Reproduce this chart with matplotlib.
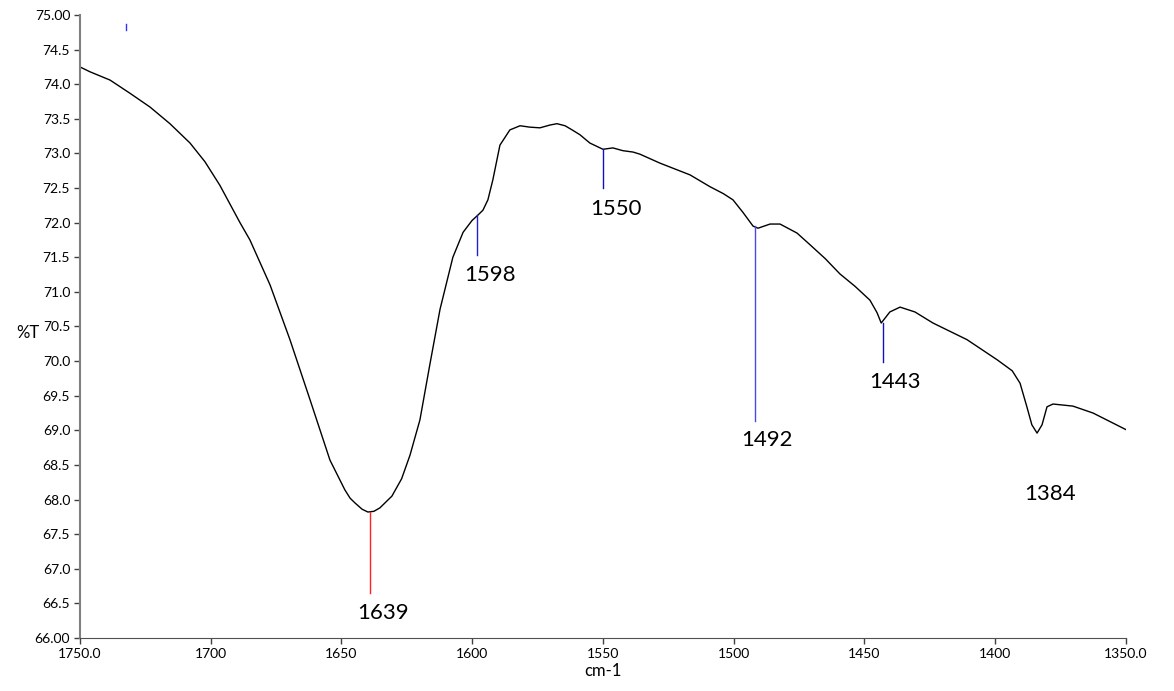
import numpy as np
import matplotlib.pyplot as plt

plt.rcParams['font.family'] = ['Lato', 'DejaVu Sans']

# IR transmittance trace (wavenumber cm-1, %T)
wavenumber = [1750.0, 1746.2, 1738.5, 1730.9, 1723.2, 1715.6, 1707.9, 1702.2, 1696.5,
              1688.8, 1685.0, 1677.3, 1669.7, 1662.0, 1654.4, 1648.7, 1646.7, 1644.8,
              1642.1, 1639.9, 1637.6, 1635.3, 1633.4, 1630.7, 1627.0, 1623.8, 1620.0,
              1616.2, 1612.3, 1607.4, 1603.5, 1600.1, 1597.8, 1595.9, 1594.0, 1592.1,
              1589.4, 1585.6, 1581.7, 1578.0, 1574.1, 1570.3, 1567.6, 1564.5, 1561.8,
              1558.8, 1555.0, 1550.0, 1546.2, 1542.4, 1538.5, 1535.9, 1528.2, 1516.7,
              1509.1, 1504.0, 1500.3, 1496.5, 1492.6, 1490.7, 1486.1, 1482.3, 1475.8,
              1470.8, 1465.0, 1459.4, 1453.6, 1447.9, 1445.2, 1443.6, 1440.3, 1436.4,
              1430.7, 1423.8, 1410.8, 1399.3, 1393.5, 1390.5, 1387.9, 1386.0, 1384.0,
              1382.1, 1380.2, 1377.9, 1370.3, 1362.6, 1350.0]
transmittance = [74.25, 74.18, 74.06, 73.87, 73.67, 73.43, 73.15, 72.88, 72.54,
                 72.00, 71.75, 71.10, 70.31, 69.44, 68.57, 68.14, 68.02, 67.95,
                 67.86, 67.82, 67.83, 67.88, 67.95, 68.05, 68.30, 68.64, 69.15,
                 69.95, 70.75, 71.50, 71.86, 72.03, 72.11, 72.18, 72.33, 72.62,
                 73.12, 73.34, 73.40, 73.38, 73.37, 73.41, 73.43, 73.40, 73.34,
                 73.27, 73.15, 73.06, 73.08, 73.04, 73.02, 72.99, 72.86, 72.69,
                 72.52, 72.42, 72.33, 72.15, 71.95, 71.92, 71.98, 71.98, 71.85,
                 71.68, 71.48, 71.26, 71.08, 70.88, 70.70, 70.55, 70.71, 70.78,
                 70.71, 70.55, 70.31, 70.02, 69.86, 69.68, 69.34, 69.08, 68.96,
                 69.08, 69.34, 69.38, 69.35, 69.25, 69.01]

# peak picks: position, %T at the peak, bottom of the marker line, label y, colour
peak_pos = [1639, 1598, 1550, 1492, 1443, 1384]
peak_top = [67.82, 72.11, 73.06, 71.95, 70.55, None]
peak_bottom = [66.65, 71.53, 72.50, 69.14, 69.99, None]
label_y = [66.36, 71.25, 72.20, 68.86, 69.70, 68.08]
peak_color = ['#ff2020', '#2020d0', '#1010c0', '#4848e8', '#1010c0', None]

fig = plt.figure(figsize=(11.74, 6.91), dpi=100)
ax = fig.add_axes([0.0681, 0.0767, 0.8910, 0.9016])

ax.plot(wavenumber, transmittance, color='black', lw=1.0)

for pos, top, bot, ly, col in zip(peak_pos, peak_top, peak_bottom, label_y, peak_color):
    if top is not None:
        ax.plot([pos, pos], [top, bot], color=col, lw=1.0)
    ax.annotate(str(pos), xy=(pos, ly), xytext=(9, 0), textcoords='offset points',
                ha='center', va='center', fontsize=16, color='black')

# stray pick mark near the top
ax.plot([1732.4, 1732.4], [74.78, 74.87], color='#3030ff', lw=1.0)

ax.set_xlim(1750, 1350)
ax.set_ylim(66, 75)
ax.set_xticks([1750, 1700, 1650, 1600, 1550, 1500, 1450, 1400, 1350])
ax.set_xticklabels(['1750.0', '1700', '1650', '1600', '1550', '1500', '1450', '1400', '1350.0'])
yt = np.arange(66, 75.01, 0.5)
ax.set_yticks(yt)
ax.set_yticklabels(['%.2f' % v if v in (66, 75) else '%.1f' % v for v in yt])
ax.tick_params(axis='both', direction='out', length=4, width=1, labelsize=10,
               color='#404040', pad=3)

ax.spines['top'].set_visible(False)
ax.spines['right'].set_visible(False)
ax.spines['left'].set_color('#808080')
ax.spines['bottom'].set_color('#505050')
ax.spines['left'].set_linewidth(1.5)

ax.set_xlabel('cm-1', fontsize=12, labelpad=2)
ax.set_ylabel('%T', fontsize=12, rotation=0, labelpad=0)
ax.yaxis.set_label_coords(-0.05, 0.476)

fig.savefig('out.png', dpi=100)
